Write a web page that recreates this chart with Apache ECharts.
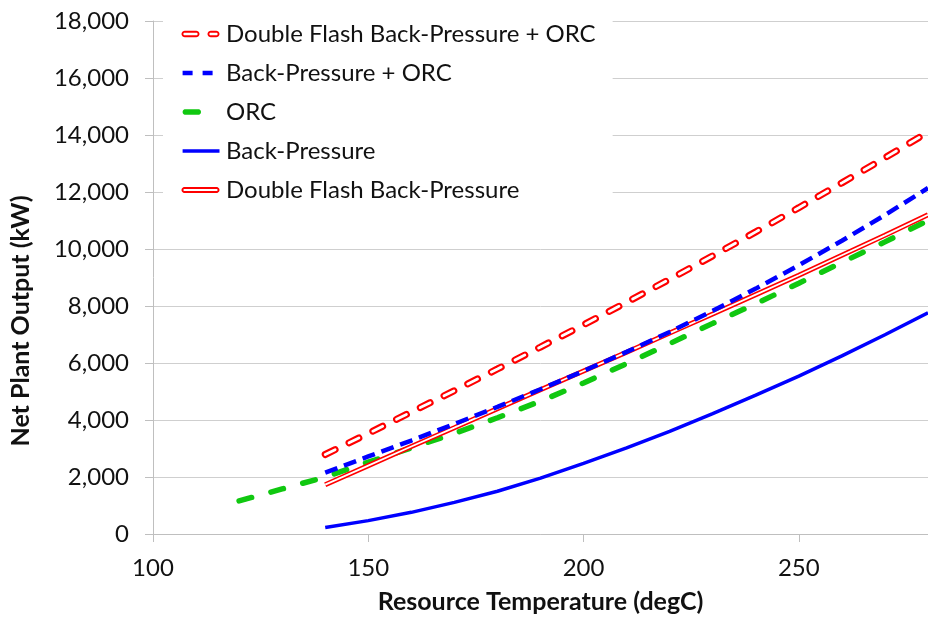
<!DOCTYPE html>
<html>
<head>
<meta charset="utf-8">
<script src="https://cdn.jsdelivr.net/npm/echarts@6/dist/echarts.min.js"></script>
<style>
  html, body { margin: 0; padding: 0; background: #fff; }
  #chart { width: 928px; height: 619px; }
</style>
</head>
<body>
<div id="chart"></div>
<script>
// resource temperatures (degC)
const tempsOrc = [120, 130, 140, 150, 160, 170, 180, 190, 200, 210, 220, 230, 240, 250, 260, 270, 280];
const temps = [140, 150, 160, 170, 180, 190, 200, 210, 220, 230, 240, 250, 260, 270, 280];

// net plant output (kW)
const dfBpOrc = [2790, 3530, 4280, 5030, 5790, 6560, 7340, 8130, 8940, 9760, 10600, 11450, 12320, 13200, 14100];
const bpOrc = [2150, 2720, 3280, 3860, 4460, 5080, 5720, 6390, 7090, 7830, 8610, 9430, 10290, 11190, 12140];
const orc = [1160, 1580, 2000, 2520, 3020, 3530, 4080, 4660, 5300, 5980, 6680, 7390, 8080, 8800, 9530, 10250, 11000];
const bp = [230, 470, 760, 1110, 1500, 1960, 2480, 3020, 3600, 4220, 4870, 5540, 6250, 6990, 7760];
const dfBp = [1730, 2400, 3070, 3730, 4400, 5060, 5720, 6380, 7050, 7720, 8400, 9080, 9780, 10480, 11200];

const names = [
    "Double Flash Back-Pressure + ORC",
    "Back-Pressure + ORC",
    "ORC",
    "Back-Pressure",
    "Double Flash Back-Pressure"
];

const pairs = (xs, ys) => xs.map((x, i) => [x, ys[i]]);

// legend icons as paths (hollow capsules are cut out by winding the inner ring backwards)
function capsule(x0, x1, cy, r, reverse) {
    const pts = [];
    for (let a = -90; a <= 90; a += 15) {
        const t = a * Math.PI / 180;
        pts.push([x1 - r + r * Math.cos(t), cy + r * Math.sin(t)]);
    }
    for (let a = 90; a <= 270; a += 15) {
        const t = a * Math.PI / 180;
        pts.push([x0 + r + r * Math.cos(t), cy + r * Math.sin(t)]);
    }
    if (reverse) pts.reverse();
    return "M" + pts.map(p => p[0].toFixed(2) + "," + p[1].toFixed(2)).join(" L") + " Z ";
}
function hollow(x0, x1, cy, R, r) {
    return capsule(x0, x1, cy, R, false) + capsule(x0 + R - r, x1 - R + r, cy, r, true);
}
function rect(x0, x1, cy, h) {
    return "M" + x0 + "," + (cy - h / 2) + " L" + x1 + "," + (cy - h / 2) + " L" + x1 + "," + (cy + h / 2) + " L" + x0 + "," + (cy + h / 2) + " Z ";
}
const frame = "M0,0 L0.01,0 L0,0.01 Z M40,8 L39.99,8 L40,7.99 Z ";
const icons = [
    "path://" + frame + hollow(0.5, 18.5, 4, 3.2, 1.3) + hollow(26.5, 38.5, 4, 3.2, 1.3),
    "path://" + frame + rect(1.6, 11.6, 4, 4.5) + rect(21.6, 31.6, 4, 4.5),
    "path://" + frame + capsule(1.6, 20, 4, 2.8, false),
    "path://" + frame + rect(1.6, 38.5, 4, 3.5),
    "path://" + frame + hollow(0.5, 38.5, 4, 3, 1.1)
];

const FONT = "Lato";
const chart = echarts.init(document.getElementById("chart"), null, { renderer: "canvas" });

chart.setOption({
    animation: false,
    backgroundColor: "#fff",
    grid: { left: 153, top: 21, right: -11, bottom: 84 },
    legend: {
        orient: "vertical",
        left: 163,
        top: 9,
        padding: [10, 17, 10, 18],
        backgroundColor: "#fff",
        itemWidth: 40,
        itemHeight: 8,
        itemGap: 9,
        itemStyle: { borderWidth: 0 },
        textStyle: { fontFamily: FONT, fontSize: 24, color: "#111", lineHeight: 30 },
        data: names.map((n, i) => ({ name: n, icon: icons[i] })),
        z: 10
    },
    graphic: [{
        type: "text",
        x: 21,
        y: 321,
        rotation: Math.PI / 2,
        style: {
            text: "Net Plant Output (kW)",
            fontFamily: FONT, fontSize: 25, fontWeight: "bold", fill: "#111",
            align: "center", verticalAlign: "middle"
        }
    }],
    xAxis: {
        type: "value",
        min: 100,
        max: 280,
        interval: 50,
        name: "Resource Temperature (degC)",
        nameLocation: "middle",
        nameGap: 55,
        nameTextStyle: { fontFamily: FONT, fontSize: 25, fontWeight: "bold", color: "#111" },
        axisLine: { show: true, lineStyle: { color: "#bfbfbf", width: 1 } },
        axisTick: { show: true, length: 8, lineStyle: { color: "#bfbfbf" } },
        axisLabel: { fontFamily: FONT, fontSize: 24, color: "#111", margin: 22, showMaxLabel: false },
        splitLine: { show: false }
    },
    yAxis: {
        type: "value",
        min: 0,
        max: 18000,
        interval: 2000,
        axisLine: { show: true, lineStyle: { color: "#bfbfbf", width: 1 } },
        axisTick: { show: true, length: 8, lineStyle: { color: "#bfbfbf" } },
        axisLabel: {
            fontFamily: FONT, fontSize: 24, color: "#111", margin: 24,
            formatter: v => v.toLocaleString("en-US")
        },
        splitLine: { show: true, lineStyle: { color: "#cfcfcf", width: 1 } }
    },
    series: [
        {
            name: names[3], type: "line", symbol: "none", data: pairs(temps, bp),
            itemStyle: { color: "#0000ff" },
            lineStyle: { color: "#0000ff", width: 3.5 }
        },
        {
            name: names[2], type: "line", symbol: "none", data: pairs(tempsOrc, orc),
            itemStyle: { color: "#10c810" },
            lineStyle: { color: "#10c810", width: 5.5, type: [13, 20], cap: "round" }
        },
        {
            name: names[4], type: "line", symbol: "none", data: pairs(temps, dfBp),
            itemStyle: { color: "#ff0000" },
            lineStyle: { color: "#ff0000", width: 5 }
        },
        {
            name: "dfBp-inner", type: "line", symbol: "none", data: pairs(temps, dfBp),
            itemStyle: { color: "#ffffff" },
            lineStyle: { color: "#ffffff", width: 1.8 }
        },
        {
            name: names[1], type: "line", symbol: "none", data: pairs(temps, bpOrc),
            itemStyle: { color: "#0000ff" },
            lineStyle: { color: "#0000ff", width: 4.5, type: [13, 7] }
        },
        {
            name: names[0], type: "line", symbol: "none", data: pairs(temps, dfBpOrc),
            itemStyle: { color: "#ff0000" },
            lineStyle: { color: "#ff0000", width: 7, type: [11, 15.5], cap: "round" }
        },
        {
            name: "dfBpOrc-inner", type: "line", symbol: "none", data: pairs(temps, dfBpOrc),
            itemStyle: { color: "#ffffff" },
            lineStyle: { color: "#ffffff", width: 2.8, type: [11, 15.5], cap: "round" }
        }
    ]
});
</script>
</body>
</html>
